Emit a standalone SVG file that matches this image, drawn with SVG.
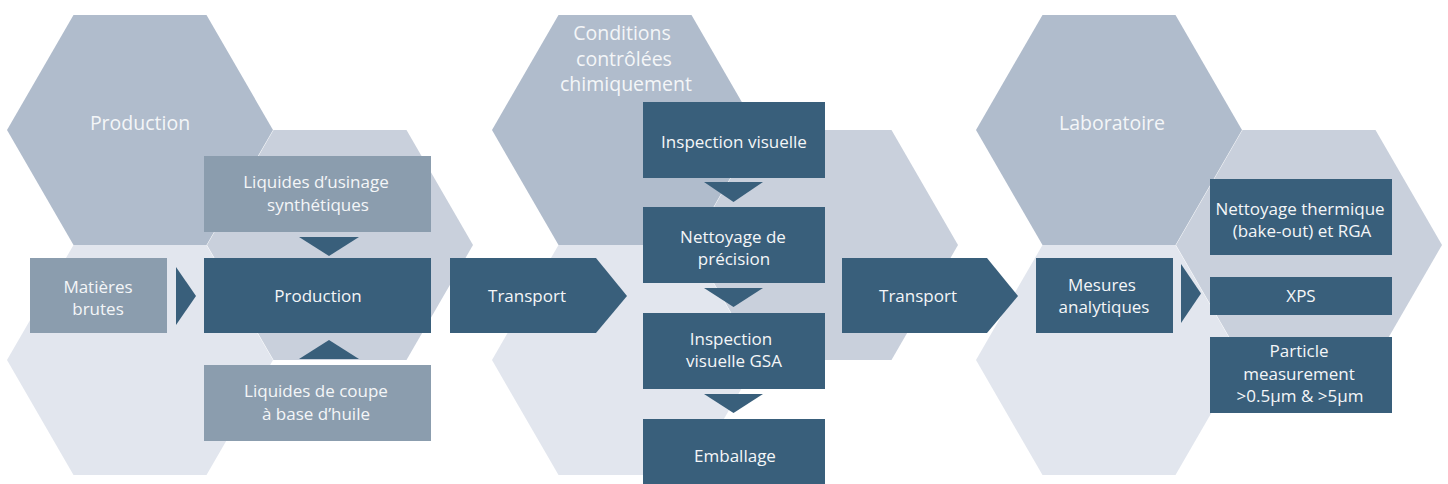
<svg xmlns="http://www.w3.org/2000/svg" width="1448" height="484" viewBox="0 0 1448 484">
<style>
.h1{fill:#b0bccc}
.h2{fill:#c9d0dc}
.h3{fill:#e2e6ee}
.dk{fill:#395f7b}
.md{fill:#8b9dae}
text{font-family:"Open Sans","Noto Sans","DejaVu Sans",sans-serif;fill:#f4f6f8;text-anchor:middle}
.t{font-size:17px}
.tt{font-size:19.5px}
</style>
<defs>
<polygon id="hex" points="-133,0 -66.5,-115 66.5,-115 133,0 66.5,115 -66.5,115"/>
</defs>
<rect width="1448" height="484" fill="#ffffff"/>
<g id="hexagons">
<use href="#hex" class="h1" x="140" y="130"/>
<use href="#hex" class="h2" x="340" y="245"/>
<use href="#hex" class="h3" x="140" y="360"/>
<use href="#hex" class="h1" x="625" y="130"/>
<use href="#hex" class="h2" x="825" y="245"/>
<use href="#hex" class="h3" x="625" y="360"/>
<use href="#hex" class="h1" x="1109" y="130"/>
<use href="#hex" class="h2" x="1309" y="245"/>
<use href="#hex" class="h3" x="1109" y="360"/>
</g>
<g id="title-production"><text class="tt" x="140" y="130">Production</text></g>
<g id="title-conditions"><text class="tt" x="622" y="40">Conditions</text><text class="tt" x="624" y="66">contrôlées</text><text class="tt" x="626" y="91">chimiquement</text></g>
<g id="title-laboratoire"><text class="tt" x="1112" y="130">Laboratoire</text></g>

<g id="connectors">
<polygon class="dk" points="176,267 196,296 176,325"/>
<polygon class="dk" points="299,237 359,237 329,256"/>
<polygon class="dk" points="299,359 359,359 329,340"/>
<polygon class="dk" points="704,182 763,182 733.5,202"/>
<polygon class="dk" points="704,288 763,288 733.5,307"/>
<polygon class="dk" points="704,394 763,394 733.5,413"/>
<polygon class="dk" points="1181,264 1201,293.5 1181,323"/>
</g>

<g id="matieres"><rect class="md" x="30" y="258" width="137" height="75"/><text class="t" x="98" y="293">Matières</text><text class="t" x="98" y="315">brutes</text></g>
<g id="liquides-usinage"><rect class="md" x="204" y="156" width="227" height="76"/><text class="t" x="316" y="188">Liquides d’usinage</text><text class="t" x="318" y="211">synthétiques</text></g>
<g id="production"><rect class="dk" x="204" y="258" width="227" height="75"/><text class="t" x="318" y="302">Production</text></g>
<g id="liquides-coupe"><rect class="md" x="204" y="365" width="227" height="76"/><text class="t" x="316" y="397">Liquides de coupe</text><text class="t" x="316" y="420">à base d’huile</text></g>
<g id="transport1"><polygon class="dk" points="450,258 596,258 627,296 596,333 450,333"/><text class="t" x="527" y="302">Transport</text></g>
<g id="inspection"><rect class="dk" x="643" y="102" width="182" height="76"/><text class="t" x="734" y="148">Inspection visuelle</text></g>
<g id="nettoyage"><rect class="dk" x="643" y="207" width="182" height="76"/><text class="t" x="733" y="243">Nettoyage de</text><text class="t" x="734" y="265">précision</text></g>
<g id="inspection-gsa"><rect class="dk" x="643" y="313" width="182" height="76"/><text class="t" x="731" y="345">Inspection</text><text class="t" x="734" y="367">visuelle GSA</text></g>
<g id="emballage"><rect class="dk" x="643" y="419" width="182" height="76"/><text class="t" x="735" y="462">Emballage</text></g>
<g id="transport2"><polygon class="dk" points="842,258 987,258 1018,296 987,333 842,333"/><text class="t" x="918" y="302">Transport</text></g>
<g id="mesures"><rect class="dk" x="1036" y="258" width="137" height="75"/><text class="t" x="1102" y="291">Mesures</text><text class="t" x="1104" y="313">analytiques</text></g>
<g id="nettoyage-thermique"><rect class="dk" x="1210" y="179" width="182" height="76"/><text class="t" x="1300" y="215">Nettoyage thermique</text><text class="t" x="1302" y="237">(bake-out) et RGA</text></g>
<g id="xps"><rect class="dk" x="1210" y="277" width="182" height="38"/><text class="t" x="1301" y="302">XPS</text></g>
<g id="particle"><rect class="dk" x="1210" y="337" width="182" height="76"/><text class="t" x="1299" y="357">Particle</text><text class="t" x="1299" y="380">measurement</text><text class="t" x="1300" y="402">&gt;0.5µm &amp; &gt;5µm</text></g>
</svg>
